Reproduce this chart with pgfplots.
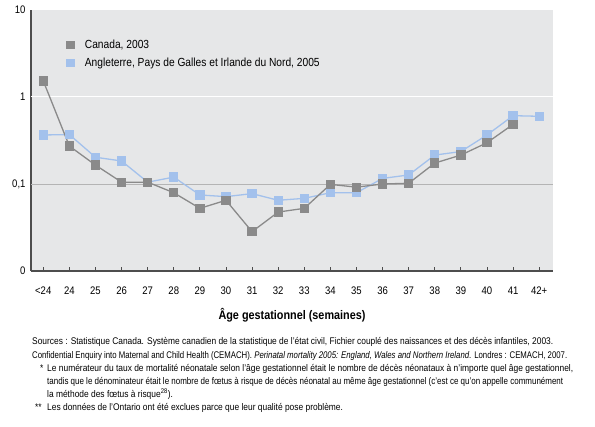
\documentclass[border=0pt]{standalone}
\usepackage{graphicx}
\usepackage{pgfplots}
\pgfplotsset{compat=1.18}
\usepackage{fontspec}
\setmainfont{Liberation Sans}[FakeStretch=0.87]

\definecolor{panel}{HTML}{E6E7E8}
\definecolor{cangrey}{HTML}{8A8A8A}
\definecolor{engblue}{HTML}{A3C1EC}
\definecolor{axisdark}{HTML}{4D4D4D}
\definecolor{gridgrey}{HTML}{B4B4B4}

% one line of the notes, set to a given width
\newcommand{\noteline}[2]{\resizebox{#1}{\height}{#2}}

\pgfplotstableread{
idx canada
0  1.53
1  0.273
2  0.165
3  0.105
4  0.105
5  0.0794
6  0.0525
7  0.065
8  0.0283
9  0.0476
10 0.0525
11 0.099
12 0.092
13 0.100
14 0.102
15 0.174
16 0.215
17 0.298
18 0.485
}\canadadata

\pgfplotstableread{
idx england
0  0.366
1  0.370
2  0.203
3  0.184
4  0.105
5  0.120
6  0.0748
7  0.0716
8  0.0775
9  0.065
10 0.0684
11 0.0794
12 0.0794
13 0.116
14 0.127
15 0.215
16 0.236
17 0.366
18 0.61
19 0.60
}\englanddata

\begin{document}
\begin{tikzpicture}[x=1bp,y=1bp]
\path (0,0) rectangle (595,426);
\begin{axis}[
  at={(31bp,155bp)}, anchor=south west,
  scale only axis, width=522bp, height=261bp,
  ymode=log, ymin=0.01, ymax=10,
  xmin=-0.47, xmax=19.53,
  axis background/.style={fill=panel},
  axis lines*=left,
  axis line style={axisdark, line width=1.1pt},
  xtick={0,...,19},
  xticklabels={<24,24,25,26,27,28,29,30,31,32,33,34,35,36,37,38,39,40,41,42+},
  ytick={0.01,0.1,1,10},
  yticklabels={0,{0,1},1,10},
  minor ytick={}, yminorticks=false,
  tick align=inside,
  major tick length=4bp,
  xtick style={axisdark, line width=0.8pt},
  ytick style={draw=none},
  tick label style={font=\fontsize{11}{13}\selectfont, text=black},
  xticklabel style={yshift=-12bp},
  yticklabel style={xshift=-2bp},
  xlabel={\textbf{Âge gestationnel (semaines)}},
  xlabel style={font=\fontsize{12.5}{14}\selectfont, yshift=-7bp},
  clip=false,
  legend style={at={(rel axis cs:0.068,0.895)}, anchor=north west, draw=none, fill=none,
    font=\fontsize{11.8}{13}\selectfont, row sep=4bp, inner sep=0pt,
    /tikz/every odd column/.append style={column sep=9bp}},
  legend cell align=left,
  legend image code/.code={\draw[#1] plot coordinates {(4bp,0bp)};},
]
\draw[white, line width=1pt] (axis cs:-0.47,1) -- (axis cs:19.53,1);
\draw[gridgrey, line width=0.6pt] (axis cs:-0.47,0.1) -- (axis cs:19.53,0.1);

\addplot[engblue, line width=1.3pt, mark=square*, mark size=4bp, mark options={fill=engblue, draw=engblue}, forget plot]
  table[x=idx, y=england] {\englanddata};
\addplot[cangrey, line width=1.3pt, mark=square*, mark size=4bp, mark options={fill=cangrey, draw=cangrey}, forget plot]
  table[x=idx, y=canada] {\canadadata};

\addlegendimage{only marks, mark=square*, mark size=3.6bp, cangrey, mark options={fill=cangrey}}
\addlegendentry{Canada, 2003}
\addlegendimage{only marks, mark=square*, mark size=3.6bp, engblue, mark options={fill=engblue}}
\addlegendentry{Angleterre, Pays de Galles et Irlande du Nord, 2005}
\end{axis}

\begin{scope}[every node/.style={anchor=base west, inner sep=0pt, font=\fontsize{9.7}{11}\selectfont}]
\node at (32,81.5) {\noteline{521bp}{Sources : Statistique Canada. Système canadien de la statistique de l’état civil, Fichier couplé des naissances et des décès infantiles, 2003.}};
\node at (32,67.5) {\noteline{535bp}{Confidential Enquiry into Maternal and Child Health (CEMACH). \textit{Perinatal mortality 2005: England, Wales and Northern Ireland}. Londres : CEMACH, 2007.}};
\node at (40,54.5) {*};
\node at (47,54.5) {\noteline{526bp}{Le numérateur du taux de mortalité néonatale selon l’âge gestationnel était le nombre de décès néonataux à n’importe quel âge gestationnel,}};
\node at (47,41.5) {\noteline{516bp}{tandis que le dénominateur était le nombre de fœtus à risque de décès néonatal au même âge gestationnel (c’est ce qu’on appelle communément}};
\node at (47,28.5) {la méthode des fœtus à risque\textsuperscript{28}).};
\node at (35,15.5) {**};
\node at (47,15.5) {Les données de l’Ontario ont été exclues parce que leur qualité pose problème.};
\end{scope}
\end{tikzpicture}
\end{document}
